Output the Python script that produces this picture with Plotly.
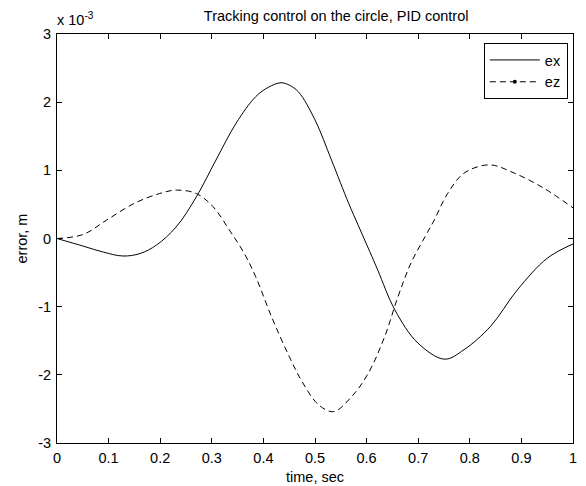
import plotly.graph_objects as go

# time samples (s) and errors (units of 1e-3 m)
t_ex = [0, 0.05, 0.09, 0.128, 0.161, 0.193, 0.231, 0.27, 0.308, 0.347, 0.385, 0.41, 0.434,
        0.45, 0.468, 0.50, 0.532, 0.565, 0.584, 0.606, 0.622, 0.655, 0.699, 0.751, 0.789,
        0.84, 0.892, 0.95, 1.0]
ex = [0, -0.11, -0.2, -0.257, -0.22, -0.095, 0.17, 0.61, 1.15, 1.69, 2.08, 2.22, 2.285,
      2.25, 2.15, 1.74, 1.15, 0.52, 0.19, -0.19, -0.47, -1.05, -1.53, -1.77, -1.63,
      -1.29, -0.755, -0.29, -0.08]

t_ez = [0, 0.051, 0.096, 0.151, 0.199, 0.231, 0.27, 0.302, 0.334, 0.363, 0.385, 0.417,
        0.45, 0.475, 0.507, 0.536, 0.571, 0.603, 0.635, 0.661, 0.686, 0.715, 0.731, 0.757,
        0.789, 0.838, 0.886, 0.943, 1.0]
ez = [0, 0.06, 0.27, 0.52, 0.66, 0.71, 0.66, 0.47, 0.125, -0.22, -0.56, -1.17,
      -1.73, -2.1, -2.44, -2.54, -2.32, -1.98, -1.44, -0.85, -0.36, 0.05, 0.27, 0.66,
      0.96, 1.08, 0.96, 0.74, 0.45]

x_ticks = [0, 0.1, 0.2, 0.3, 0.4, 0.5, 0.6, 0.7, 0.8, 0.9, 1]
x_ticklabels = ["0", "0.1", "0.2", "0.3", "0.4", "0.5", "0.6", "0.7", "0.8", "0.9", "1"]
y_ticks = [-3, -2, -1, 0, 1, 2, 3]
y_ticklabels = ["-3", "-2", "-1", "0", "1", "2", "3"]

FONT = "Liberation Sans, Arial, sans-serif"
FS = 14.5

fig = go.Figure()
fig.add_trace(go.Scatter(x=t_ex, y=ex, mode="lines", name="ex",
                         line=dict(color="black", width=1, shape="spline", smoothing=1.0)))
fig.add_trace(go.Scatter(x=t_ez, y=ez, mode="lines", name="ez", showlegend=False,
                         line=dict(color="black", width=1, dash="6px,4px", shape="spline", smoothing=1.0)))
fig.add_trace(go.Scatter(x=[None], y=[None], mode="lines+markers", name="ez",
                         line=dict(color="black", width=1, dash="6px,4px"),
                         marker=dict(color="black", size=4)))

axis_common = dict(showline=True, linecolor="black", linewidth=1, mirror="ticks",
                   ticks="inside", ticklen=5, tickcolor="black", showgrid=False,
                   zeroline=False, ticklabelstandoff=2,
                   tickfont=dict(family=FONT, size=FS, color="black"))

fig.update_layout(
    width=586, height=486,
    margin=dict(l=57, r=9, t=34, b=43),
    paper_bgcolor="white", plot_bgcolor="white",
    font=dict(family=FONT, size=FS, color="black"),
    title=dict(text="Tracking control on the circle, PID control", x=(57 + 577) / 2 / 586,
               xanchor="center", y=1 - 16 / 486, yanchor="middle",
               font=dict(family=FONT, size=FS, color="black"), xref="paper"),
    xaxis=dict(range=[0, 1], tickvals=x_ticks, ticktext=x_ticklabels, **axis_common),
    yaxis=dict(range=[-3, 3], tickvals=y_ticks, ticktext=y_ticklabels, **axis_common),
    legend=dict(x=0.99, y=0.978, xanchor="right", yanchor="top",
                bordercolor="black", borderwidth=1, bgcolor="white",
                font=dict(family=FONT, size=FS), tracegroupgap=0, itemwidth=50),
    showlegend=True,
)
fig.add_annotation(text="x 10<sup>-3</sup>", xref="paper", yref="paper", x=0, y=1,
                   xanchor="left", yanchor="middle", showarrow=False, xshift=-2, yshift=15,
                   font=dict(family=FONT, size=FS, color="black"))
fig.add_annotation(text="error, m", xref="paper", yref="paper", x=0, y=0.5,
                   xanchor="center", yanchor="middle", textangle=-90, showarrow=False,
                   xshift=21 - 57, font=dict(family=FONT, size=FS, color="black"))
fig.add_annotation(text="time, sec", xref="paper", yref="paper", x=0.5, y=0,
                   xanchor="center", yanchor="middle", showarrow=False,
                   yshift=-(477 - 443), font=dict(family=FONT, size=FS, color="black"))

fig.write_html("out.html")
